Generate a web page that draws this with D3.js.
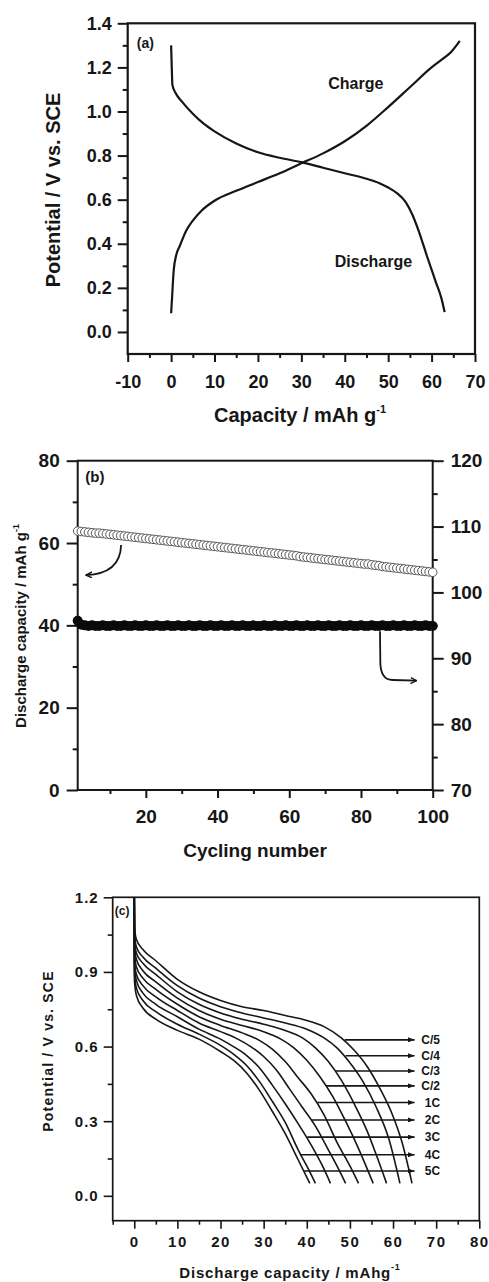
<!DOCTYPE html>
<html>
<head>
<meta charset="utf-8">
<script src="https://cdn.jsdelivr.net/npm/d3@7/dist/d3.min.js"></script>
<style>
  body { margin: 0; background: #ffffff; }
  svg text { font-family: "Liberation Sans", Arial, sans-serif; font-weight: bold; fill: #161616; }
</style>
</head>
<body>
<div id="chart"></div>
<script>
// ---- (a) charge / discharge curves: [capacity, potential] ----
var chargeCurve = [[0, 0.085], [0.2, 0.15], [0.6, 0.28], [1.2, 0.35], [2, 0.39], [3.5, 0.46], [5, 0.505], [7, 0.55],
  [10, 0.595], [15, 0.64], [20, 0.68], [25, 0.72], [30, 0.765], [35, 0.81], [40, 0.865], [45, 0.935],
  [50, 1.02], [55, 1.11], [60, 1.2], [63, 1.245], [64.5, 1.27], [66.5, 1.32]];
var dischargeCurve = [[0, 1.3], [0.15, 1.2], [0.3, 1.12], [1, 1.085], [2.5, 1.045], [5, 0.99], [7.5, 0.945],
  [10, 0.91], [15, 0.855], [20, 0.815], [25, 0.79], [30, 0.77], [35, 0.745], [40, 0.72], [45, 0.695],
  [48, 0.675], [50, 0.655], [52, 0.63], [54, 0.59], [55.5, 0.535], [57, 0.46], [59, 0.34], [61, 0.225],
  [62.3, 0.15], [63, 0.09]];

// ---- (b) cycling: discharge capacity (left axis) and efficiency (right axis), cycles 1..100 ----
var dischargeCapacity = [
  62.9, 62.8, 62.7, 62.6, 62.5, 62.4, 62.4, 62.3, 62.2, 62.1,
  62.0, 61.9, 61.8, 61.7, 61.6, 61.5, 61.4, 61.3, 61.2, 61.1,
  61.0, 60.9, 60.8, 60.7, 60.6, 60.5, 60.4, 60.3, 60.2, 60.1,
  60.0, 59.9, 59.8, 59.7, 59.6, 59.5, 59.4, 59.3, 59.2, 59.1,
  59.0, 58.9, 58.8, 58.7, 58.6, 58.5, 58.4, 58.3, 58.2, 58.1,
  58.0, 57.9, 57.8, 57.7, 57.6, 57.5, 57.4, 57.3, 57.2, 57.1,
  57.0, 56.9, 56.7, 56.6, 56.5, 56.4, 56.3, 56.2, 56.1, 56.0,
  55.9, 55.8, 55.7, 55.6, 55.5, 55.4, 55.3, 55.2, 55.1, 55.0,
  54.9, 54.9, 54.7, 54.6, 54.5, 54.3, 54.2, 54.1, 54.0, 53.9,
  53.8, 53.7, 53.6, 53.5, 53.4, 53.3, 53.2, 53.1, 53.0, 52.9];
var efficiency = [
  95.7, 95.1, 95.0, 94.9, 95.0, 94.9, 94.9, 95.0, 94.9, 94.9,
  95.0, 94.9, 94.9, 95.0, 94.9, 94.9, 95.0, 94.9, 94.9, 95.0,
  94.9, 94.9, 95.0, 94.9, 94.9, 95.0, 94.9, 94.9, 95.0, 94.9,
  94.9, 95.0, 94.9, 94.9, 95.0, 94.9, 94.9, 95.0, 94.9, 94.9,
  95.0, 94.9, 94.9, 95.0, 94.9, 94.9, 95.0, 94.9, 94.9, 95.0,
  94.9, 94.9, 95.0, 94.9, 94.9, 95.0, 94.9, 94.9, 95.0, 94.9,
  94.9, 95.0, 94.9, 94.9, 95.0, 94.9, 94.9, 95.0, 94.9, 94.9,
  95.0, 94.9, 94.9, 95.0, 94.9, 94.9, 95.0, 94.9, 94.9, 95.0,
  94.9, 94.9, 95.0, 94.9, 94.9, 95.0, 94.9, 94.9, 95.0, 94.9,
  94.9, 95.0, 94.9, 94.9, 95.0, 94.9, 94.9, 95.0, 94.9, 94.9];

// ---- (c) rate capability: one discharge curve per rate ----
var rateLabels = ["C/5", "C/4", "C/3", "C/2", "1C", "2C", "3C", "4C", "5C"];
var rateCurves = [
  [[0, 1.2], [0.05, 1.08], [0.5, 1.03], [2, 0.99], [5, 0.945], [10, 0.87], [15, 0.82], [20, 0.785], [25, 0.76],
   [30, 0.745], [35, 0.725], [40, 0.705], [44, 0.68], [48, 0.635], [51, 0.585], [54, 0.52], [57, 0.43],
   [60, 0.32], [62, 0.22], [64.4, 0.05]],
  [[0, 1.2], [0.05, 1.05], [0.5, 1.0], [2, 0.96], [5, 0.915], [10, 0.845], [15, 0.795], [20, 0.76], [25, 0.735],
   [30, 0.715], [35, 0.695], [40, 0.67], [44, 0.635], [47, 0.595], [50, 0.535], [53, 0.46], [56, 0.36],
   [59, 0.23], [61.6, 0.05]],
  [[0, 1.2], [0.05, 1.02], [0.5, 0.975], [2, 0.935], [5, 0.89], [10, 0.82], [15, 0.77], [20, 0.735], [25, 0.71],
   [30, 0.69], [35, 0.665], [39, 0.635], [42, 0.595], [45, 0.54], [48, 0.465], [51, 0.37], [54, 0.26],
   [56, 0.17], [58.5, 0.05]],
  [[0, 1.2], [0.05, 0.995], [0.5, 0.95], [2, 0.905], [5, 0.86], [10, 0.795], [15, 0.745], [20, 0.71], [25, 0.685],
   [30, 0.66], [34, 0.63], [37, 0.595], [40, 0.545], [43, 0.48], [46, 0.4], [49, 0.3], [52, 0.19], [55.4, 0.05]],
  [[0, 1.2], [0.05, 0.97], [0.5, 0.92], [2, 0.875], [5, 0.83], [10, 0.77], [15, 0.72], [20, 0.685], [25, 0.655],
   [29, 0.625], [32, 0.59], [35, 0.54], [38, 0.475], [41, 0.41], [44, 0.325], [47, 0.215], [50, 0.12], [52, 0.05]],
  [[0, 1.2], [0.05, 0.94], [0.5, 0.89], [2, 0.845], [5, 0.8], [10, 0.745], [15, 0.695], [20, 0.66], [24, 0.63],
   [27, 0.6], [30, 0.56], [33, 0.505], [36, 0.43], [39, 0.355], [42, 0.28], [45, 0.185], [47, 0.12], [49, 0.05]],
  [[0, 1.2], [0.05, 0.915], [0.5, 0.865], [2, 0.815], [5, 0.77], [10, 0.72], [15, 0.67], [20, 0.63], [23, 0.6],
   [26, 0.565], [29, 0.515], [32, 0.445], [35, 0.37], [38, 0.29], [41, 0.205], [43.5, 0.125], [45.5, 0.05]],
  [[0, 1.2], [0.05, 0.89], [0.5, 0.835], [2, 0.785], [5, 0.74], [10, 0.69], [15, 0.65], [20, 0.605], [23, 0.57],
   [26, 0.525], [29, 0.46], [32, 0.38], [35, 0.295], [38, 0.185], [40, 0.12], [42, 0.05]],
  [[0, 1.2], [0.05, 0.865], [0.5, 0.805], [2, 0.755], [5, 0.71], [10, 0.665], [15, 0.63], [20, 0.58], [23, 0.545],
   [26, 0.495], [29, 0.425], [32, 0.34], [35, 0.25], [38, 0.145], [40.7, 0.05]]];
// label arrows: where each arrow leaves its curve
var arrowStartX = [48.8, 49.0, 46.6, 44.5, 42.4, 41.1, 40.1, 38.4, 39.3];
var arrowY = [0.627, 0.563, 0.502, 0.442, 0.375, 0.305, 0.236, 0.165, 0.10];

var ink = "#161616";

var svg = d3.select("#chart")
  .append("svg")
  .attr("width", 489)
  .attr("height", 1282);

var defs = svg.append("defs");
defs.append("marker")
  .attr("id", "headC")
  .attr("viewBox", "0 0 8 6")
  .attr("refX", 8).attr("refY", 3)
  .attr("markerWidth", 7).attr("markerHeight", 5)
  .attr("markerUnits", "userSpaceOnUse")
  .attr("orient", "auto")
  .append("path").attr("d", "M0,0 L8,3 L0,6 Z").attr("fill", ink);
defs.append("marker")
  .attr("id", "headB")
  .attr("viewBox", "0 0 8 8")
  .attr("refX", 7).attr("refY", 4)
  .attr("markerWidth", 7).attr("markerHeight", 7)
  .attr("markerUnits", "userSpaceOnUse")
  .attr("orient", "auto")
  .append("path").attr("d", "M0,0.5 L7,4 L0,7.5").attr("fill", "none").attr("stroke", ink).attr("stroke-width", 1.6);

// helper: draw one axis (major or minor ticks) and style it
function addAxis(axisFn, scale, values, size, pad, tx, ty, fontSize, fmt, sw) {
  var ax = axisFn(scale).tickValues(values).tickSize(size).tickSizeOuter(0).tickPadding(pad).tickFormat(fmt);
  var g = svg.append("g")
    .attr("transform", "translate(" + tx + "," + ty + ")")
    .call(ax);
  g.attr("font-family", null).attr("font-size", fontSize);
  g.select(".domain").remove();
  g.selectAll(".tick line").attr("stroke", ink).attr("stroke-width", sw);
  g.selectAll(".tick text").attr("fill", ink);
  return g;
}
function frame(x0, x1, y0, y1, sw) {
  svg.append("rect")
    .attr("x", x0).attr("y", y1)
    .attr("width", x1 - x0).attr("height", y0 - y1)
    .attr("fill", "none").attr("stroke", ink).attr("stroke-width", sw);
}
var plain = function(d) { return String(d); };
var oneDec = function(d) { return d.toFixed(1); };

// =========================== Panel (a) ===========================
var xA = d3.scaleLinear().domain([-10, 70]).range([127.7, 475]);
var yA = d3.scaleLinear().domain([-0.1, 1.4]).range([354, 23.3]);

addAxis(d3.axisLeft, yA, [0, 0.2, 0.4, 0.6, 0.8, 1.0, 1.2, 1.4], 10, 6, xA(-10), 0, 18, oneDec, 2);
addAxis(d3.axisLeft, yA, [0.1, 0.3, 0.5, 0.7, 0.9, 1.1, 1.3], 5, 6, xA(-10), 0, 18, "", 2);
addAxis(d3.axisBottom, xA, [-10, 0, 10, 20, 30, 40, 50, 60, 70], 8, 13, 0, yA(-0.1), 18, plain, 2);
addAxis(d3.axisBottom, xA, [-5, 5, 15, 25, 35, 45, 55, 65], 4, 13, 0, yA(-0.1), 18, "", 2);
frame(xA(-10), xA(70), yA(-0.1), yA(1.4), 2.2);

var lineA = d3.line()
  .x(d => xA(d[0]))
  .y(d => yA(d[1]))
  .curve(d3.curveMonotoneX);
svg.append("path").datum(chargeCurve).attr("d", lineA)
  .attr("fill", "none").attr("stroke", ink).attr("stroke-width", 2.2);
svg.append("path").datum(dischargeCurve).attr("d", lineA)
  .attr("fill", "none").attr("stroke", ink).attr("stroke-width", 2.2);

svg.append("text").attr("x", xA(-7.9)).attr("y", yA(1.287)).attr("font-size", 14).text("(a)");
svg.append("text").attr("x", xA(36.2)).attr("y", yA(1.10)).attr("font-size", 16).text("Charge");
svg.append("text").attr("x", xA(37.7)).attr("y", yA(0.296)).attr("font-size", 16).text("Discharge");

var xlabA = svg.append("text").attr("x", 300).attr("y", 422).attr("text-anchor", "middle").attr("font-size", 20);
xlabA.append("tspan").text("Capacity / mAh g");
xlabA.append("tspan").attr("dy", -9).attr("font-size", 11).text("-1");
svg.append("text")
  .attr("transform", "rotate(-90)")
  .attr("x", -190).attr("y", 60)
  .attr("text-anchor", "middle").attr("font-size", 20)
  .text("Potential / V vs. SCE");

// =========================== Panel (b) ===========================
var xB = d3.scaleLinear().domain([1, 100]).range([77.7, 432.7]);
var yBL = d3.scaleLinear().domain([0, 80]).range([790, 460.7]);
var yBR = d3.scaleLinear().domain([70, 120]).range([790, 460.7]);

addAxis(d3.axisLeft, yBL, [0, 20, 40, 60, 80], 11, 7, xB(1), 0, 19, plain, 2);
addAxis(d3.axisLeft, yBL, [10, 30, 50, 70], 5, 7, xB(1), 0, 19, "", 2);
addAxis(d3.axisRight, yBR, [70, 80, 90, 100, 110, 120], 11, 7, xB(100), 0, 19, plain, 2);
addAxis(d3.axisRight, yBR, [75, 85, 95, 105, 115], 5, 7, xB(100), 0, 19, "", 2);
addAxis(d3.axisBottom, xB, [20, 40, 60, 80, 100], 8, 12, 0, yBL(0), 19, plain, 2);
addAxis(d3.axisBottom, xB, [10, 30, 50, 70, 90], 4, 12, 0, yBL(0), 19, "", 2);
frame(xB(1), xB(100), yBL(0), yBL(80), 2);

// open circles: discharge capacity
svg.append("g").selectAll("circle")
  .data(dischargeCapacity)
  .enter()
  .append("circle")
  .attr("cx", (d, i) => xB(i + 1))
  .attr("cy", d => yBL(d))
  .attr("r", 4.3)
  .attr("fill", "#ffffff")
  .attr("stroke", "#555555")
  .attr("stroke-width", 1);

// filled circles: efficiency (right axis)
svg.append("g").selectAll("circle")
  .data(efficiency)
  .enter()
  .append("circle")
  .attr("cx", (d, i) => xB(i + 1))
  .attr("cy", d => yBR(d))
  .attr("r", 5)
  .attr("fill", "#0a0a0a");

// pointer arrows to the axes
var pL = d3.path();
pL.moveTo(xB(13.1), yBL(59.5));
pL.quadraticCurveTo(xB(12.9), yBL(52.5), xB(3.3), yBL(52.2));
svg.append("path").attr("d", pL.toString())
  .attr("fill", "none").attr("stroke", ink).attr("stroke-width", 1.8).attr("marker-end", "url(#headB)");
var pR = d3.path();
pR.moveTo(xB(85.3), yBR(94.1));
pR.lineTo(xB(85.4), yBR(89.2));
pR.quadraticCurveTo(xB(85.6), yBR(86.7), xB(88.8), yBR(86.7));
pR.lineTo(xB(95.5), yBR(86.6));
svg.append("path").attr("d", pR.toString())
  .attr("fill", "none").attr("stroke", ink).attr("stroke-width", 1.8).attr("marker-end", "url(#headB)");

svg.append("text").attr("x", xB(3.1)).attr("y", yBL(74.8)).attr("font-size", 15).text("(b)");
svg.append("text").attr("x", 255).attr("y", 857).attr("text-anchor", "middle").attr("font-size", 19).text("Cycling number");
var ylabB = svg.append("text")
  .attr("transform", "rotate(-90)")
  .attr("x", -626).attr("y", 26)
  .attr("text-anchor", "middle").attr("font-size", 15);
ylabB.append("tspan").text("Discharge capacity / mAh g");
ylabB.append("tspan").attr("dy", -7).attr("font-size", 9).text("-1");

// =========================== Panel (c) ===========================
var xC = d3.scaleLinear().domain([-5, 80]).range([112.7, 479.3]);
var yC = d3.scaleLinear().domain([-0.1, 1.2]).range([1220.7, 897.3]);

var gy = addAxis(d3.axisLeft, yC, [0, 0.3, 0.6, 0.9, 1.2], 9, 5, xC(-5), 0, 15, oneDec, 1.6);
gy.selectAll(".tick text").attr("letter-spacing", 1);
addAxis(d3.axisLeft, yC, [0.15, 0.45, 0.75, 1.05], 5, 5, xC(-5), 0, 15, "", 1.6);
var gx = addAxis(d3.axisBottom, xC, [0, 10, 20, 30, 40, 50, 60, 70, 80], 8, 8, 0, yC(-0.1), 15, plain, 1.6);
gx.selectAll(".tick text").attr("letter-spacing", 1.5);
addAxis(d3.axisBottom, xC, [-5, 5, 15, 25, 35, 45, 55, 65, 75], 4, 8, 0, yC(-0.1), 15, "", 1.6);
frame(xC(-5), xC(80), yC(-0.1), yC(1.2), 1.7);

var lineC = d3.line()
  .x(d => xC(d[0]))
  .y(d => yC(d[1]))
  .curve(d3.curveMonotoneX);
svg.append("g").selectAll("path")
  .data(rateCurves)
  .enter()
  .append("path")
  .attr("d", lineC)
  .attr("fill", "none")
  .attr("stroke", ink)
  .attr("stroke-width", 1.6);

// arrows + rate labels
svg.append("g").selectAll("line")
  .data(rateLabels)
  .enter()
  .append("line")
  .attr("x1", (d, i) => xC(arrowStartX[i]))
  .attr("x2", xC(65))
  .attr("y1", (d, i) => yC(arrowY[i]))
  .attr("y2", (d, i) => yC(arrowY[i]))
  .attr("stroke", ink)
  .attr("stroke-width", 1.6)
  .attr("marker-end", "url(#headC)");
svg.append("g").selectAll("text")
  .data(rateLabels)
  .enter()
  .append("text")
  .attr("x", xC(70.9))
  .attr("y", (d, i) => yC(arrowY[i]))
  .attr("dy", "0.36em")
  .attr("text-anchor", "end")
  .attr("font-size", 12)
  .text(d => d);

svg.append("text").attr("x", xC(-4.5)).attr("y", yC(1.127)).attr("font-size", 12).text("(c)");
var xlabC = svg.append("text").attr("x", 290).attr("y", 1278).attr("text-anchor", "middle")
  .attr("font-size", 15).attr("letter-spacing", 0.8);
xlabC.append("tspan").text("Discharge capacity / mAhg");
xlabC.append("tspan").attr("dy", -8).attr("font-size", 9).text("-1");
svg.append("text")
  .attr("transform", "rotate(-90)")
  .attr("x", -1051).attr("y", 53)
  .attr("text-anchor", "middle").attr("font-size", 14).attr("letter-spacing", 1.2)
  .text("Potential / V vs. SCE");
</script>
</body>
</html>
